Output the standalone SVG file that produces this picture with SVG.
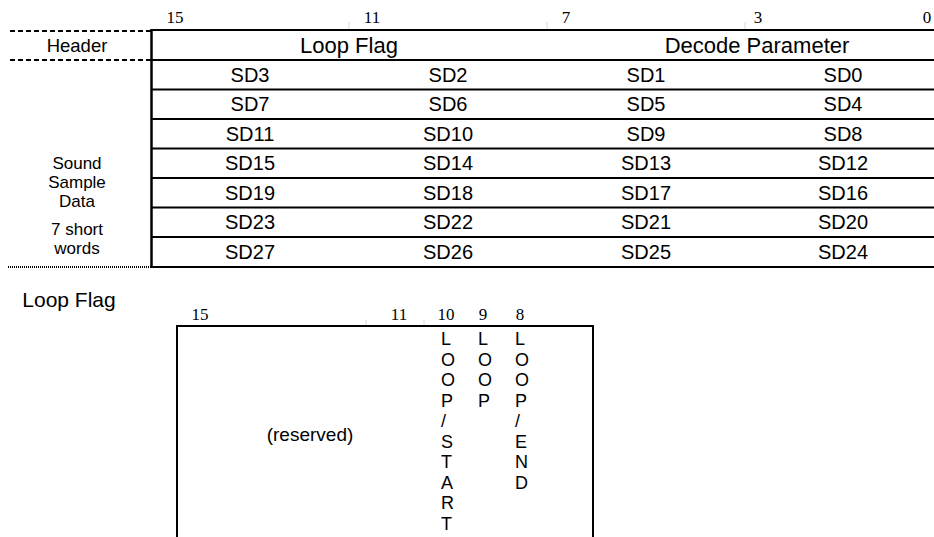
<svg xmlns="http://www.w3.org/2000/svg" width="934" height="537" viewBox="0 0 934 537">
<style>
.t{font-family:"Liberation Sans",Arial,sans-serif;font-size:20px;fill:#000;text-anchor:middle}
.h{font-family:"Liberation Sans",Arial,sans-serif;font-size:22px;fill:#000;text-anchor:middle}
.l{font-family:"Liberation Sans",Arial,sans-serif;font-size:18.5px;fill:#000;text-anchor:middle}
.s{font-family:"Liberation Sans",Arial,sans-serif;font-size:17px;fill:#000;text-anchor:middle}
.b{font-family:"Liberation Serif","Times New Roman",serif;font-size:17px;fill:#000;text-anchor:middle}
.v{font-family:"Liberation Sans",Arial,sans-serif;font-size:18px;fill:#000}
.ln{stroke:#000;stroke-width:2;fill:none}
.tick{stroke:#d8d8d8;stroke-width:1}
</style>
<rect width="934" height="537" fill="#fff"/>
<g id="bit-numbers-top">
<text class="b" x="175" y="23">15</text>
<text class="b" x="372" y="23">11</text>
<text class="b" x="566" y="23">7</text>
<text class="b" x="758" y="23">3</text>
<text class="b" x="927" y="23">0</text>
</g>
<g id="table-lines">
<line class="tick" x1="349" y1="22" x2="349" y2="30"/>
<line class="tick" x1="547" y1="22" x2="547" y2="30"/>
<line class="tick" x1="745" y1="22" x2="745" y2="30"/>
<line class="ln" x1="151" y1="30" x2="934" y2="30"/>
<line class="ln" x1="151" y1="60" x2="934" y2="60"/>
<line class="ln" x1="151" y1="89.5" x2="934" y2="89.5"/>
<line class="ln" x1="151" y1="119" x2="934" y2="119"/>
<line class="ln" x1="151" y1="148.5" x2="934" y2="148.5"/>
<line class="ln" x1="151" y1="178" x2="934" y2="178"/>
<line class="ln" x1="151" y1="207.5" x2="934" y2="207.5"/>
<line class="ln" x1="151" y1="237" x2="934" y2="237"/>
<line class="ln" x1="151" y1="267" x2="934" y2="267"/>
<line stroke="#000" stroke-width="2.5" x1="151.5" y1="29" x2="151.5" y2="268"/>
<line stroke="#000" stroke-width="2" stroke-dasharray="5,3" x1="10" y1="31" x2="151" y2="31"/>
<line stroke="#000" stroke-width="2" stroke-dasharray="5,3" x1="10" y1="60" x2="151" y2="60"/>
<line stroke="#000" stroke-width="2" stroke-dasharray="1,1" x1="8" y1="267" x2="151" y2="267"/>
</g>
<g id="header-row">
<text class="l" x="77" y="52">Header</text>
<text class="h" x="349" y="53">Loop Flag</text>
<text class="h" x="757" y="53">Decode Parameter</text>
</g>
<g id="sound-sample-label">
<text class="s" x="77" y="169">Sound</text>
<text class="s" x="77" y="188">Sample</text>
<text class="s" x="77" y="207">Data</text>
<text class="s" x="77" y="234.5">7 short</text>
<text class="s" x="77" y="253.5">words</text>
</g>
<g id="data-rows">
<text class="t" x="250" y="82">SD3</text><text class="t" x="448" y="82">SD2</text><text class="t" x="646" y="82">SD1</text><text class="t" x="843" y="82">SD0</text>
<text class="t" x="250" y="111">SD7</text><text class="t" x="448" y="111">SD6</text><text class="t" x="646" y="111">SD5</text><text class="t" x="843" y="111">SD4</text>
<text class="t" x="250" y="141">SD11</text><text class="t" x="448" y="141">SD10</text><text class="t" x="646" y="141">SD9</text><text class="t" x="843" y="141">SD8</text>
<text class="t" x="250" y="170">SD15</text><text class="t" x="448" y="170">SD14</text><text class="t" x="646" y="170">SD13</text><text class="t" x="843" y="170">SD12</text>
<text class="t" x="250" y="200">SD19</text><text class="t" x="448" y="200">SD18</text><text class="t" x="646" y="200">SD17</text><text class="t" x="843" y="200">SD16</text>
<text class="t" x="250" y="229">SD23</text><text class="t" x="448" y="229">SD22</text><text class="t" x="646" y="229">SD21</text><text class="t" x="843" y="229">SD20</text>
<text class="t" x="250" y="259">SD27</text><text class="t" x="448" y="259">SD26</text><text class="t" x="646" y="259">SD25</text><text class="t" x="843" y="259">SD24</text>
</g>
<g id="loop-flag-detail">
<text class="t" x="69" y="307" style="font-size:21px">Loop Flag</text>
<text class="b" x="200" y="320">15</text>
<text class="b" x="399" y="320">11</text>
<text class="b" x="446" y="320">10</text>
<text class="b" x="483" y="320">9</text>
<text class="b" x="520" y="320">8</text>
<line class="tick" x1="366" y1="320" x2="366" y2="326"/>
<line class="tick" x1="424" y1="320" x2="424" y2="326"/>
<path class="ln" d="M177,537 V326 H593 V537"/>
<text class="t" x="310" y="441" style="font-size:19px">(reserved)</text>
<text class="v" x="441" y="345"><tspan x="441" dy="0">L</tspan><tspan x="441" dy="20.5">O</tspan><tspan x="441" dy="20.5">O</tspan><tspan x="441" dy="20.5">P</tspan><tspan x="441" dy="20.5">/</tspan><tspan x="441" dy="20.5">S</tspan><tspan x="441" dy="20.5">T</tspan><tspan x="441" dy="20.5">A</tspan><tspan x="441" dy="20.5">R</tspan><tspan x="441" dy="20.5">T</tspan></text>
<text class="v" x="478" y="345"><tspan x="478" dy="0">L</tspan><tspan x="478" dy="20.5">O</tspan><tspan x="478" dy="20.5">O</tspan><tspan x="478" dy="20.5">P</tspan></text>
<text class="v" x="515" y="345"><tspan x="515" dy="0">L</tspan><tspan x="515" dy="20.5">O</tspan><tspan x="515" dy="20.5">O</tspan><tspan x="515" dy="20.5">P</tspan><tspan x="515" dy="20.5">/</tspan><tspan x="515" dy="20.5">E</tspan><tspan x="515" dy="20.5">N</tspan><tspan x="515" dy="20.5">D</tspan></text>
</g>
</svg>
